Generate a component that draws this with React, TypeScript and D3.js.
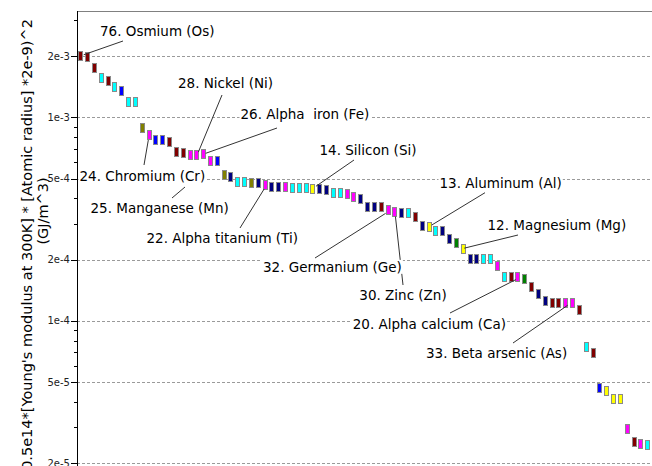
import React, { useEffect, useRef } from "react";
import * as d3 from "d3";

// ---- data ----
const values: number[] = [
  2.007e-3, 1.971e-3, 1.74e-3, 1.553e-3, 1.512e-3, 1.409e-3, 1.346e-3, 1.192e-3, 1.184e-3,
  8.88e-4, 8.18e-4, 7.73e-4, 7.73e-4, 7.53e-4, 6.77e-4, 6.69e-4, 6.52e-4, 6.52e-4, 6.58e-4, 6.1e-4, 6.1e-4,
  5.2e-4, 5.1e-4, 4.82e-4, 4.82e-4, 4.77e-4, 4.75e-4, 4.65e-4, 4.56e-4, 4.53e-4, 4.53e-4, 4.51e-4, 4.51e-4, 4.51e-4,
  4.43e-4, 4.43e-4, 4.39e-4, 4.26e-4, 4.24e-4, 4.22e-4, 4.06e-4, 3.96e-4, 3.61e-4, 3.61e-4, 3.61e-4, 3.49e-4, 3.42e-4,
  3.37e-4, 3.37e-4, 3.25e-4, 2.93e-4, 2.9e-4, 2.75e-4, 2.75e-4, 2.51e-4, 2.4e-4, 2.25e-4, 2.01e-4, 2.01e-4, 2.01e-4, 2.01e-4,
  1.86e-4, 1.65e-4, 1.65e-4, 1.65e-4, 1.6e-4, 1.46e-4, 1.35e-4, 1.25e-4, 1.23e-4, 1.23e-4, 1.22e-4, 1.22e-4, 1.13e-4,
  7.46e-5, 6.97e-5, 4.66e-5, 4.52e-5, 4.13e-5, 4.13e-5, 2.93e-5, 2.55e-5, 2.48e-5, 2.45e-5,
];

// group code of each bar (drives its colour)
const groups: string[] = [
  "B", "B", "B", "C", "B", "C", "U", "C", "C",
  "O", "M", "U", "U", "B", "B", "B", "M", "M", "M", "M", "U",
  "O", "N", "C", "C", "O", "N", "M", "N", "N", "M", "C", "C", "C",
  "Y", "N", "N", "C", "C", "M", "M", "N", "N", "N", "B", "M", "M",
  "N", "C", "B", "N", "Y", "C", "N", "N", "G", "Y", "N", "N", "C", "C",
  "M", "C", "B", "M", "G", "B", "N", "N", "B", "B", "M", "M", "B",
  "C", "B", "U", "Y", "Y", "Y", "M", "B", "M", "C",
];

const categories: number[] = values.map((_, i) => i);

const majorTicks: number[] = [2e-3, 1e-3, 5e-4, 2e-4, 1e-4, 5e-5, 2e-5];
const majorTickLabels: string[] = ["2e-3", "1e-3", "5e-4", "2e-4", "1e-4", "5e-5", "2e-5"];

const annotationTexts: string[] = [
  "76. Osmium (Os)",
  "28. Nickel (Ni)",
  "26. Alpha  iron (Fe)",
  "14. Silicon (Si)",
  "24. Chromium (Cr)",
  "25. Manganese (Mn)",
  "22. Alpha titanium (Ti)",
  "32. Germanium (Ge)",
  "30. Zinc (Zn)",
  "13. Aluminum (Al)",
  "12. Magnesium (Mg)",
  "20. Alpha calcium (Ca)",
  "33. Beta arsenic (As)",
];
const annotationBars: (number | null)[] = [0, 17, 18, 34, 10, null, 27, 45, 46, 51, 56, 64, 71];

const titleLine1 = "0.5e14*[Young's modulus at 300K] * [Atomic radius] *2e-9)^2";
const titleLine2 = "(GJ/m^3)";

// ---- styles / layout ----
const COLORS: Record<string, string> = {
  B: "#800000",
  C: "#00ffff",
  U: "#0000ff",
  N: "#000080",
  O: "#808000",
  M: "#ff00ff",
  Y: "#ffff00",
  G: "#008000",
};
const FONT = "'DejaVu Sans', Verdana, sans-serif";

// label layout: x, y (text centre line), anchor, leader start, leader end offset from bar
const annLayout = [
  { x: 100, y: 31.5, a: "start", sx: 123, sy: 41, dx: 3, dy: -1 },
  { x: 178, y: 83, a: "start", sx: 222, sy: 95, dx: 1.5, dy: -3 },
  { x: 240.5, y: 114, a: "start", sx: 277, sy: 128, dx: 2, dy: -1 },
  { x: 319.5, y: 150.5, a: "start", sx: 354, sy: 160, dx: 3, dy: -3 },
  { x: 79.5, y: 176, a: "start", sx: 144, sy: 165, dx: -0.7, dy: 5 },
  { x: 90.5, y: 208, a: "start", sx: 172, sy: 198, ex: 185, ey: 187 },
  { x: 146.5, y: 238.5, a: "start", sx: 240, sy: 228, dx: -1, dy: 4 },
  { x: 263, y: 267, a: "start", sx: 315, sy: 258, dx: -2.5, dy: 3 },
  { x: 446.7, y: 295, a: "end", sx: 403, sy: 285, dx: 0.5, dy: 4.5 },
  { x: 439.5, y: 183.5, a: "start", sx: 485, sy: 192.7, dx: 2.7, dy: -1.7 },
  { x: 487.5, y: 225.5, a: "start", sx: 518, sy: 235, dx: 1, dy: -1 },
  { x: 506, y: 324, a: "end", sx: 450, sy: 313, dx: -2, dy: 3 },
  { x: 426, y: 353.5, a: "start", sx: 513, sy: 343, dx: 2, dy: 2 },
];

const W = 652;
const H = 466;
const AXIS_X = 77;
const PLOT_TOP = 11;
const PLOT_BOTTOM = 488.5;
const X_RIGHT = 651.1;
const Y_MAX = 3.33e-3;
const Y_MIN = 1.5e-5;
const BAR_W = 5;
const BAR_H = 10;

export default function App() {
  const ref = useRef<SVGSVGElement>(null);

  useEffect(() => {
    if (!ref.current) return;
    const svg = d3.select(ref.current);
    svg.selectAll("*").remove();

    const x = d3.scaleBand<number>().domain(categories).range([AXIS_X + 0.3, X_RIGHT]).padding(0);
    const y = d3.scaleLog().domain([Y_MIN, Y_MAX]).range([PLOT_BOTTOM, PLOT_TOP]);
    const cx = (i: number) => (x(i) as number) + x.bandwidth() / 2;

    svg.append("rect").attr("width", W).attr("height", H).attr("fill", "#ffffff");

    // gridlines
    svg
      .append("g")
      .selectAll("line")
      .data(majorTicks)
      .join("line")
      .attr("x1", AXIS_X)
      .attr("x2", W)
      .attr("y1", (d) => Math.round(y(d)) + 0.5)
      .attr("y2", (d) => Math.round(y(d)) + 0.5)
      .attr("stroke", "#9a9a9a")
      .attr("stroke-dasharray", "3,2");

    // top frame
    svg
      .append("line")
      .attr("x1", AXIS_X)
      .attr("x2", W)
      .attr("y1", PLOT_TOP + 0.5)
      .attr("y2", PLOT_TOP + 0.5)
      .attr("stroke", "#808080");

    // minor ticks
    const minor: number[] = [];
    for (let e = -6; e <= -2; e++) {
      for (let k = 1; k <= 9; k++) {
        const v = k * Math.pow(10, e);
        if (v >= Y_MIN && v <= Y_MAX && !majorTicks.some((m) => Math.abs(m - v) / m < 1e-6)) minor.push(v);
      }
    }
    const yAxis = svg.append("g");
    yAxis
      .selectAll("line.minor")
      .data(minor)
      .join("line")
      .attr("class", "minor")
      .attr("x1", AXIS_X - 3)
      .attr("x2", AXIS_X)
      .attr("y1", (d) => Math.round(y(d)) + 0.5)
      .attr("y2", (d) => Math.round(y(d)) + 0.5)
      .attr("stroke", "#000");
    yAxis
      .selectAll("line.major")
      .data(majorTicks)
      .join("line")
      .attr("class", "major")
      .attr("x1", AXIS_X - 6)
      .attr("x2", AXIS_X)
      .attr("y1", (d) => Math.round(y(d)) + 0.5)
      .attr("y2", (d) => Math.round(y(d)) + 0.5)
      .attr("stroke", "#000");
    yAxis
      .selectAll("text")
      .data(majorTicks)
      .join("text")
      .attr("x", AXIS_X - 7)
      .attr("y", (d) => y(d))
      .attr("dy", "0.35em")
      .attr("text-anchor", "end")
      .attr("font-family", FONT)
      .attr("font-size", 10)
      .attr("fill", "#222")
      .text((_, i) => majorTickLabels[i]);
    yAxis
      .append("line")
      .attr("x1", AXIS_X + 0.5)
      .attr("x2", AXIS_X + 0.5)
      .attr("y1", PLOT_TOP)
      .attr("y2", H)
      .attr("stroke", "#000");

    // bars
    svg
      .append("g")
      .selectAll("rect")
      .data(categories)
      .join("rect")
      .attr("x", (i) => Math.round(cx(i) - BAR_W / 2) + 0.5)
      .attr("y", (i) => Math.round(y(values[i]) - BAR_H / 2) + 0.5)
      .attr("width", BAR_W - 1)
      .attr("height", BAR_H - 1)
      .attr("fill", (i) => COLORS[groups[i]])
      .attr("stroke", "#8a8a8a")
      .attr("stroke-width", 1);

    // leader lines
    const leaders = svg.append("g");
    annotationTexts.forEach((_, k) => {
      const L: any = annLayout[k];
      const bi = annotationBars[k];
      const ex = bi === null ? L.ex : cx(bi) + L.dx;
      const ey = bi === null ? L.ey : y(values[bi]) + L.dy;
      leaders
        .append("line")
        .attr("x1", L.sx)
        .attr("y1", L.sy)
        .attr("x2", ex)
        .attr("y2", ey)
        .attr("stroke", "#333")
        .attr("stroke-width", 1);
    });

    // labels with white backgrounds
    const labels = svg.append("g");
    annotationTexts.forEach((t, k) => {
      const L: any = annLayout[k];
      const g = labels.append("g");
      const bg = g.append("rect").attr("fill", "#ffffff");
      const tx = g
        .append("text")
        .attr("x", L.x)
        .attr("y", L.y)
        .attr("dy", "0.36em")
        .attr("text-anchor", L.a)
        .attr("font-family", FONT)
        .attr("font-size", 13.5)
        .attr("fill", "#000")
        .style("white-space", "pre")
        .text(t);
      const bb = (tx.node() as SVGTextElement).getBBox();
      bg.attr("x", bb.x - 1).attr("y", bb.y + 1).attr("width", bb.width + 2).attr("height", bb.height - 2);
    });

    // y title
    svg
      .append("text")
      .attr("transform", "translate(32,244.5) rotate(-90)")
      .attr("text-anchor", "middle")
      .attr("font-family", FONT)
      .attr("font-size", 14.5)
      .attr("fill", "#000")
      .text(titleLine1);
    svg
      .append("text")
      .attr("transform", "translate(48,211) rotate(-90)")
      .attr("text-anchor", "middle")
      .attr("font-family", FONT)
      .attr("font-size", 14.5)
      .attr("fill", "#000")
      .text(titleLine2);
  }, []);

  return (
    <svg
      ref={ref}
      width={W}
      height={H}
      style={{ position: "absolute", left: 0, top: 0, display: "block" }}
    />
  );
}
